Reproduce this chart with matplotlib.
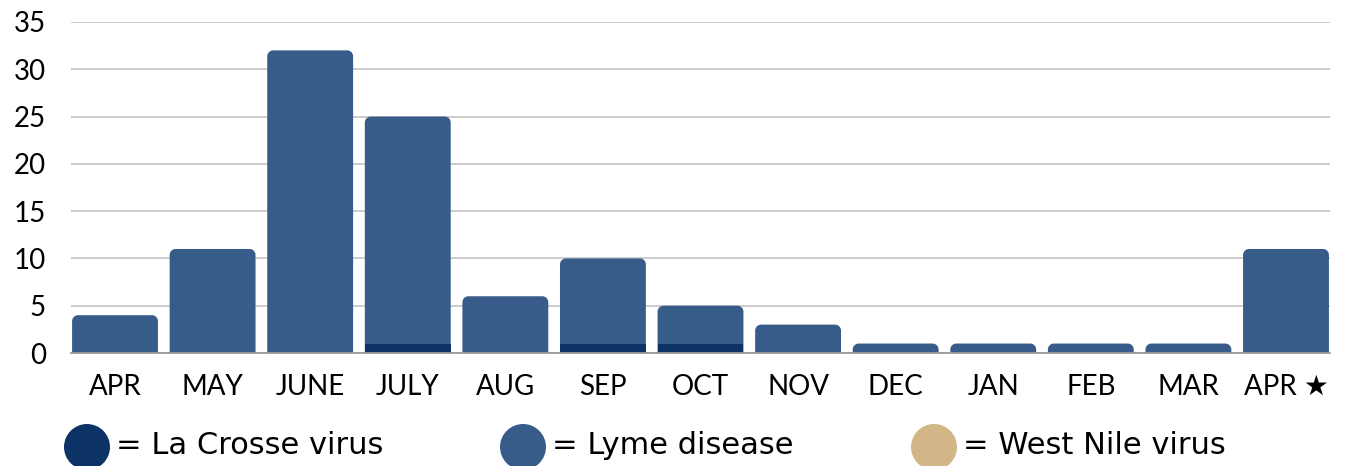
import numpy as np
import matplotlib
matplotlib.use('Agg')
import matplotlib.pyplot as plt
from matplotlib.patches import Polygon, Rectangle, Ellipse

# Data
months = ['APR', 'MAY', 'JUNE', 'JULY', 'AUG', 'SEP', 'OCT', 'NOV',
          'DEC', 'JAN', 'FEB', 'MAR', 'APR \u2605']
la_crosse = [0, 0, 0, 1, 0, 1, 1, 0, 0, 0, 0, 0, 0]
lyme = [4, 11, 32, 24, 6, 9, 4, 3, 1, 1, 1, 1, 11]
west_nile = [0, 0, 0, 0, 0, 0, 0, 0, 0, 0, 0, 0, 0]
yticks = [0, 5, 10, 15, 20, 25, 30, 35]
legend_labels = ['= La Crosse virus', '= Lyme disease', '= West Nile virus']

c_lac = '#0d3366'
c_lyme = '#375c8a'
c_wn = '#d2b688'
colors = [c_lac, c_lyme, c_wn]

W, H = 1372, 466
fig = plt.figure(figsize=(W / 100, H / 100), dpi=100)
ax = fig.add_axes([71 / W, (H - 353) / H, (1330 - 71) / W, (353 - 22) / H])

x = np.arange(len(months))
width = 0.88
ax.set_xlim(-0.451, 12.451)
ax.set_ylim(0, 35)

# px per data unit, for round top corners
px_x = (1330 - 71) / (12.451 + 0.451)
px_y = (353 - 22) / 35.0
r_px = 6.0


def top_rounded(x0, w, h):
    rx = r_px / px_x
    ry = min(r_px / px_y, h)
    pts = [(x0, 0)]
    # top-left corner, left side -> top
    for a in np.linspace(np.pi, np.pi / 2, 12):
        pts.append((x0 + rx + rx * np.cos(a), h - ry + ry * np.sin(a)))
    # top-right corner, top -> right side
    for a in np.linspace(np.pi / 2, 0, 12):
        pts.append((x0 + w - rx + rx * np.cos(a), h - ry + ry * np.sin(a)))
    pts.append((x0 + w, 0))
    return pts


for i in x:
    total = la_crosse[i] + lyme[i] + west_nile[i]
    ax.add_patch(Polygon(top_rounded(i - width / 2, width, total), closed=True,
                         fc=c_lyme, ec='none', zorder=3))
    if la_crosse[i]:
        ax.add_patch(Rectangle((i - width / 2, 0), width, la_crosse[i],
                               fc=c_lac, ec='none', zorder=4))

ax.set_yticks(yticks)
ax.yaxis.grid(True, color='#c8c8c8', lw=1.3, zorder=0)
ax.set_axisbelow(True)
for s in ['top', 'right', 'left']:
    ax.spines[s].set_visible(False)
ax.spines['bottom'].set_color('#9a9a9a')
ax.spines['bottom'].set_linewidth(1.3)
ax.spines['bottom'].set_zorder(5)

ax.set_xticks(x)
ax.set_xticklabels(months, family=['Lato', 'DejaVu Sans'], fontsize=20)
ax.tick_params(axis='x', length=0, pad=15)
ax.tick_params(axis='y', length=0, pad=18)
for t in ax.get_yticklabels():
    t.set_family('Lato')
    t.set_fontsize(20)

# Legend drawn at the bottom
circ_x = [87, 523, 934]
for cx, col, lab in zip(circ_x, colors, legend_labels):
    fig.add_artist(Ellipse((cx / W, (H - 447) / H), 46 / W, 46 / H,
                           transform=fig.transFigure, fc=col, ec='none'))
    fig.text((cx + 29) / W, (H - 446) / H, lab, fontsize=22,
             family='DejaVu Sans', va='center', ha='left')

fig.savefig('out.png', dpi=100)
